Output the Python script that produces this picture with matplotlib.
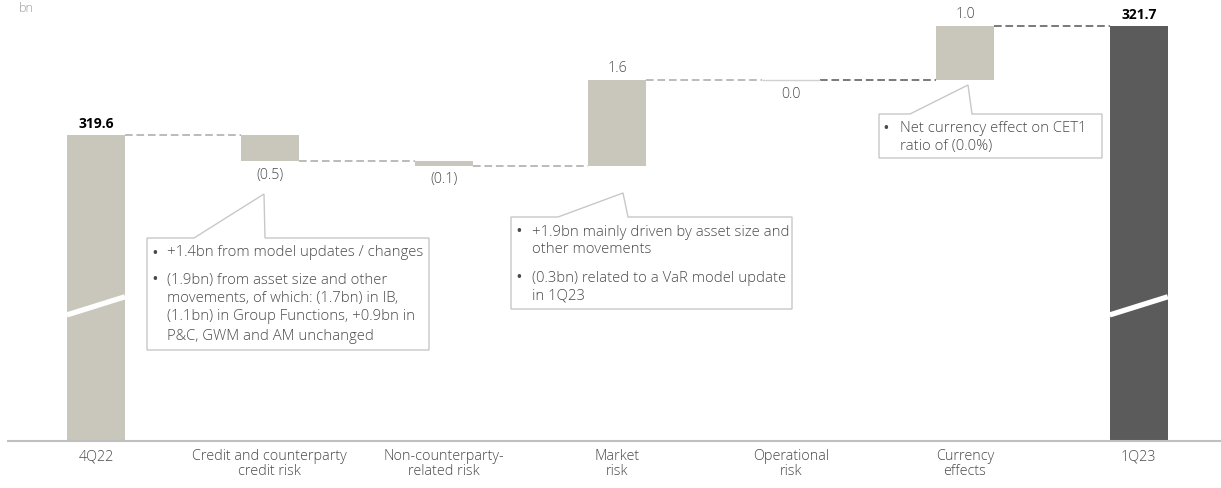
import matplotlib
matplotlib.use("Agg")
import matplotlib.pyplot as plt
from matplotlib.patches import Polygon

plt.rcParams['font.family'] = ['Open Sans', 'DejaVu Sans']
plt.rcParams['font.weight'] = 'light'

# data (bn)
categories = ['4Q22', 'Credit and counterparty\ncredit risk', 'Non-counterparty-\nrelated risk',
              'Market\nrisk', 'Operational\nrisk', 'Currency\neffects', '1Q23']
start_value = 319.6
changes = [-0.50, -0.09, 1.64, 0.0, 1.05]
end_value = 321.7
value_labels = ['319.6', '(0.5)', '(0.1)', '1.6', '0.0', '1.0', '321.7']

W, H = 1221, 488
LIGHT = '#c9c7bb'
DARK = '#5a5b5a'
TXT = '#4a4a4a'

fig = plt.figure(figsize=(W / 100, H / 100), dpi=100)
ax = fig.add_axes([8 / W, 1 - 441 / H, 1 - 8 / W, 441 / H])
ymin, ymax = 313.70, 322.20
ax.set_xlim(-0.506, 6.473)
ax.set_ylim(ymin, ymax)

bw = 0.334
n = len(categories)

# total bars
for i, val, col in [(0, start_value, LIGHT), (n - 1, end_value, DARK)]:
    ax.bar(i, val - ymin, bottom=ymin, width=bw, color=col, zorder=2)
    # axis break
    ax.plot([i - bw / 2, i + bw / 2], [316.13, 316.48], color='white', lw=3.8,
            solid_capstyle='butt', zorder=3)
    ax.annotate(value_labels[i], (i, val), xytext=(0, 3), textcoords='offset points',
                ha='center', va='bottom', fontsize=10, fontweight='bold', color='black')

# step bars
level = start_value
levels = [level]
for k, d in enumerate(changes):
    i = k + 1
    lo, hi = min(level, level + d), max(level, level + d)
    if d == 0:
        ax.hlines(level, i - bw / 2, i + bw / 2, color='#d0d0d0', lw=1, zorder=2)
    else:
        ax.bar(i, hi - lo, bottom=lo, width=bw, color=LIGHT, zorder=2)
    if d > 0:
        ax.annotate(value_labels[i], (i, hi), xytext=(0, 3), textcoords='offset points',
                    ha='center', va='bottom', fontsize=10.3, color=TXT)
    else:
        ax.annotate(value_labels[i], (i, lo), xytext=(0, -5), textcoords='offset points',
                    ha='center', va='top', fontsize=10.3, color=TXT)
    level += d
    levels.append(level)

# connectors
conn_colors = ['#a8a8a8', '#a8a8a8', '#a8a8a8', '#a8a8a8', '#555555', '#555555']
for i in range(n - 1):
    ax.plot([i + bw / 2, i + 1 - bw / 2], [levels[i], levels[i]], color=conn_colors[i],
            lw=1.1, ls=(0, (5, 2.5)), zorder=1)

for s in ['top', 'right', 'left']:
    ax.spines[s].set_visible(False)
ax.spines['bottom'].set_color('#c0c0c0')
ax.spines['bottom'].set_linewidth(1.5)
ax.set_yticks([])
ax.set_xticks(range(n))
ax.set_xticklabels(categories, fontsize=10.4, color=TXT, linespacing=1.0)
ax.tick_params(axis='x', length=0, pad=6)

fig.text(19 / W, 1 - 9 / H, 'bn', fontsize=9, color='#9a9a9a', va='center', ha='left')


def fp(x, y):
    return (x / W, 1 - y / H)


def callout(x0, y0, x1, y1, bl, br, tip):
    pts = [(x0, y0), (bl, y0), tip, (br, y0), (x1, y0), (x1, y1), (x0, y1)]
    poly = Polygon([fp(*p) for p in pts], closed=True, transform=fig.transFigure,
                   facecolor='white', edgecolor='#c8c8c8', lw=1, zorder=5)
    fig.add_artist(poly)


def bullet_text(bx, tx, lines):
    for y, txt, bul in lines:
        if bul:
            fig.text(*fp(bx, y), '•', fontsize=9, fontweight='bold', color=TXT,
                     va='center', ha='left', zorder=6)
        fig.text(*fp(tx, y), txt, fontsize=10.7, color=TXT, va='center', ha='left', zorder=6)


callout(147, 238, 429, 350, 194, 265, (264, 194))
bullet_text(152, 167, [
    (253, '+1.4bn from model updates / changes', True),
    (280, '(1.9bn) from asset size and other', True),
    (298, 'movements, of which: (1.7bn) in IB,', False),
    (317, '(1.1bn) in Group Functions, +0.9bn in', False),
    (336, 'P&C, GWM and AM unchanged', False),
])

callout(511, 217, 792, 309, 558, 628, (623, 193))
bullet_text(516, 532, [
    (232, '+1.9bn mainly driven by asset size and', True),
    (250, 'other movements', False),
    (278, '(0.3bn) related to a VaR model update', True),
    (296, 'in 1Q23', False),
])

callout(879, 114, 1102, 158, 910, 972, (968, 85))
bullet_text(883, 900, [
    (128, 'Net currency effect on CET1', True),
    (147, 'ratio of (0.0%)', False),
])

fig.savefig('out.png', dpi=100, facecolor='white')
